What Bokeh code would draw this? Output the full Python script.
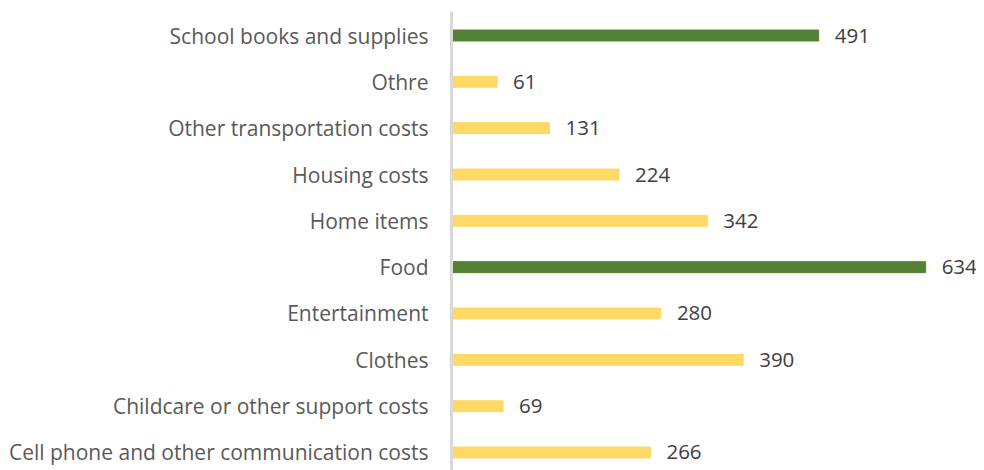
from bokeh.plotting import figure
from bokeh.models import Range1d, ColumnDataSource, FixedTicker
from bokeh.core.properties import value
from bokeh.embed import file_html
from bokeh.resources import INLINE

categories = ["Cell phone and other communication costs", "Childcare or other support costs",
              "Clothes", "Entertainment", "Food", "Home items", "Housing costs",
              "Other transportation costs", "Othre", "School books and supplies"]
amounts = [266, 69, 390, 280, 634, 342, 224, 131, 61, 491]
highlight = ["School books and supplies", "Food"]

GREEN = "#548235"
YELLOW = "#FFD966"
FONT = "Open Sans"

pos = list(range(len(categories)))
colors = [GREEN if c in highlight else YELLOW for c in categories]
labels = [str(v) for v in amounts]

src = ColumnDataSource(dict(y=pos, x=amounts, color=colors, label=labels))

p = figure(width=976, height=470, output_backend="svg", toolbar_location=None,
           x_range=Range1d(0, 702), y_range=Range1d(-0.3885, 9.518),
           min_border_left=451, min_border_right=0, min_border_top=11, min_border_bottom=0)
p.hbar(y="y", right="x", left=0, height=0.237, color="color", source=src)
p.text(x="x", y="y", text="label", source=src, x_offset=16, text_baseline="middle",
       text_align="left", text_font=value(FONT), text_font_size="20.5px", text_color="#404040")

p.xaxis.visible = False
p.yaxis.ticker = FixedTicker(ticks=pos)
p.yaxis.major_label_overrides = {i: c for i, c in enumerate(categories)}
p.yaxis.major_tick_line_color = None
p.yaxis.minor_tick_line_color = None
p.yaxis.axis_line_color = "#D9D9D9"
p.yaxis.axis_line_width = 3
p.yaxis.major_label_text_font = FONT
p.yaxis.major_label_text_font_size = "21px"
p.yaxis.major_label_text_color = "#595959"
p.yaxis.major_label_standoff = 17
p.xgrid.visible = False
p.ygrid.visible = False
p.outline_line_color = None

open("out.html", "w").write(file_html(p, INLINE))
